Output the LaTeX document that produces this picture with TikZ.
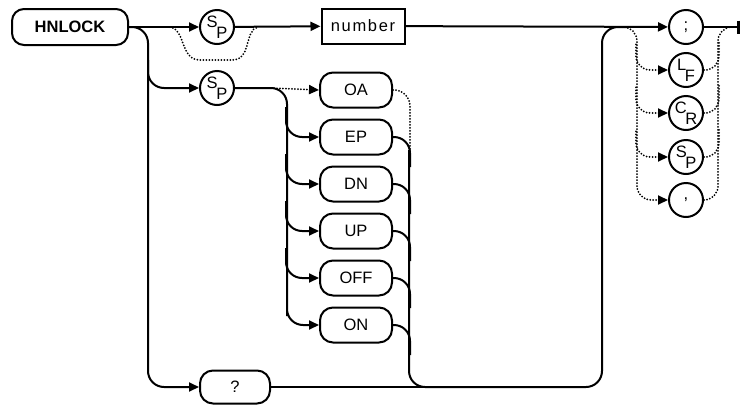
\documentclass[tikz,border=0pt]{standalone}
\usepackage{fontspec}
\setmainfont{Liberation Sans}
\usepackage{tikz}
\usetikzlibrary{arrows.meta}

\newcommand{\sublbl}[2]{\raisebox{5pt}{#1}\kern-1.5pt\raisebox{-6pt}{#2}}

\begin{document}
\begin{tikzpicture}[x=1pt, y=-1pt, line width=2pt,
  every node/.style={font=\fontsize{16.5}{18}\selectfont, inner sep=0pt},
  kw/.style={draw, rounded corners=13pt, minimum width=72pt, minimum height=35pt},
  nbox/.style={draw, minimum width=83pt, minimum height=35pt},
  term/.style={draw, circle, minimum size=34pt},
  rail/.style={rounded corners=16pt},
  opt/.style={rounded corners=14pt, dash pattern=on 0pt off 3pt, line cap=round},
  >={Triangle[length=10pt,width=9pt]}]
  \useasboundingbox (0,0) rectangle (742,405);
  \node[kw, minimum width=116pt, minimum height=36pt, rounded corners=12pt,
        font=\fontsize{16.5}{18}\selectfont\bfseries] (hn) at (70,27) {HNLOCK};
  \node[term] (sp1) at (217,27) {\sublbl{S}{P}};
  \node[nbox] (num) at (363,26) {\addfontfeature{LetterSpace=10}number};
  \node[term] (sp2) at (217,88) {\sublbl{S}{P}};
  \node[kw] (oa)  at (356,90)  {OA};
  \node[kw] (ep)  at (356,137) {EP};
  \node[kw] (dn)  at (356,184) {DN};
  \node[kw] (up)  at (356,231) {UP};
  \node[kw] (off) at (356,278) {OFF};
  \node[kw] (on)  at (356,325) {ON};
  \node[kw, minimum width=70pt, minimum height=33pt] (qm) at (235,387) {?};
  \node[term] (semi)  at (686,27)  {;};
  \node[term] (lf)    at (686,70)  {\sublbl{L}{F}};
  \node[term] (cr)    at (686,113) {\sublbl{C}{R}};
  \node[term] (spt)   at (686,157) {\sublbl{S}{P}};
  \node[term] (comma) at (686,200) {,};
  \coordinate (j1) at (170,27);  \coordinate (j2) at (258,27);
  \coordinate (b2) at (148,60);  \coordinate (b3) at (271,88);
  \coordinate (m1) at (409,150); \coordinate (m2) at (430,387);
  \coordinate (t1) at (622,27);  \coordinate (t2) at (733,27);
  \coordinate (stop) at (740,27);

  \draw[->] (hn) -- (sp1);
  \draw[->] (sp1) -- (num);
  \draw[->] (num) -- (semi);
  \draw[-{Bar[width=13pt,line width=3pt]}] (semi) -- (stop);
  \draw[opt, sharp corners] (j1) .. controls (186,30) and (180,60) .. (200,60) -- (232,60)
    .. controls (252,60) and (244,30) .. (j2);
  \draw[->, rail] (hn.east) -- (148,27) |- (qm.west);
  \draw[->, rail] (b2) |- (sp2.west);
  \draw[->, rail] (sp2.east) -| (287,300) |- (on.west);
  \draw[->, opt] (b3) -- (oa.west);
  \foreach \o in {ep,dn,up,off} \draw[<-, rail] (\o.west) -| ++(-33,-30);
  \draw[opt, rounded corners=16pt] (oa.east) -| ++(17,62);
  \foreach \o in {ep,dn,up,off,on} \draw[rail] (\o.east) -| ++(17,30);
  \draw[rail] (m1) -- (409,387) -- (602,387) -- (602,27) -- (628,27);
  \draw (qm.east) -- (m2);
  \draw[->, opt] (t1) -| (637,150) |- (comma.west);
  \foreach \t in {lf,cr,spt} \draw[<-, opt] (\t.west) -| ++(-32,-28);
  \draw[opt] (comma.east) -| (718,100) |- (t2);
  \foreach \t in {lf,cr,spt} \draw[opt] (\t.east) -| ++(15,-28);
\end{tikzpicture}
\end{document}
